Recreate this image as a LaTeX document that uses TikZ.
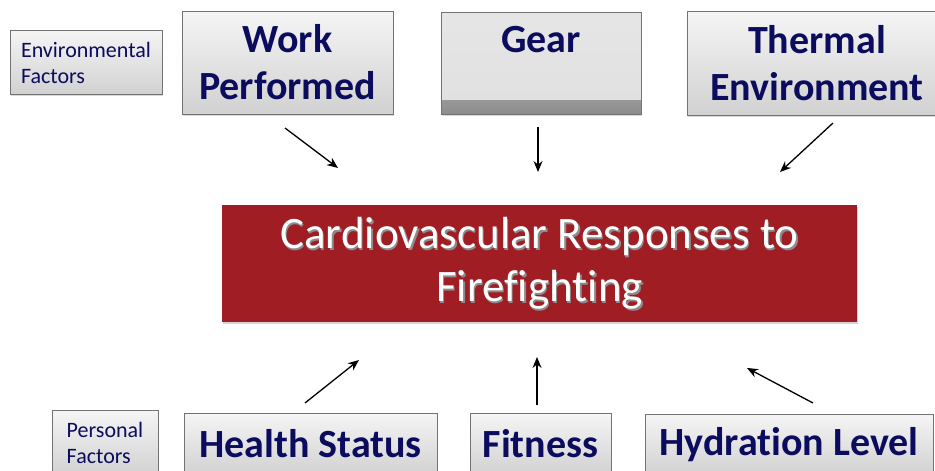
\documentclass[tikz,border=0pt]{standalone}
\usepackage{fontspec}
\setmainfont{Carlito}[Ligatures=NoCommon]
\usetikzlibrary{arrows.meta,shadows}
\definecolor{navy}{HTML}{0C0C5E}
\definecolor{cvred}{HTML}{A11D24}
\begin{document}
\begin{tikzpicture}[x=1pt,y=-1pt,
  graybox/.style={draw=black!55, line width=0.8pt, top color=black!4, bottom color=black!18,
    inner sep=0pt, text=navy, align=center,
    drop shadow={opacity=0.3, shadow xshift=1pt, shadow yshift=-1.5pt}},
  big/.style={font=\fontsize{40}{47}\selectfont\bfseries},
  small/.style={font=\fontsize{22}{26}\selectfont},
  arr/.style={-{Stealth[length=11pt,width=9pt]}, line width=1.3pt}]
\useasboundingbox (0,0) rectangle (935,471);
% top row
\node[graybox, small, align=left, minimum width=152pt, minimum height=64pt] (env) at (86,62.5) {Environmental\\Factors};
\node[graybox, big, minimum width=211pt, minimum height=103pt] (work) at (287.5,62.5) {Work\\Performed};
\node[graybox, big, minimum width=200pt, minimum height=102pt, top color=black!10, bottom color=black!12,
  path picture={\shade[top color=black!12, bottom color=black!45]
    ([yshift=14pt]path picture bounding box.south west) rectangle (path picture bounding box.south east);}]
  (gear) at (541,63) {Gear\\\phantom{Performed}};
\node[graybox, big, minimum width=260pt, minimum height=104pt] (therm) at (817,63) {Thermal\\Environment};
% centre
\node[draw=none, fill=cvred, minimum width=635pt, minimum height=117pt,
  drop shadow={opacity=0.35, shadow xshift=1pt, shadow yshift=-2pt}] (cv) at (539.5,263.5) {};
\node[text=black!45, align=center, font=\fontsize{45}{53}\selectfont] (cvs) at (541,265) {Cardiovascular Responses to\\Firefighting};
\node[text=white, align=center, font=\fontsize{45}{53}\selectfont] (cvt) at (539.5,263.5) {Cardiovascular Responses to\\Firefighting};
% bottom row
\node[graybox, small, align=left, minimum width=106pt, minimum height=66pt] (pers) at (105,443) {Personal\\Factors};
\node[graybox, big, minimum width=253pt, minimum height=62pt] (health) at (310.5,444) {Health Status};
\node[graybox, big, minimum width=141pt, minimum height=62pt] (fit) at (540.5,444) {Fitness};
\node[graybox, big, minimum width=288pt, minimum height=61pt] (hyd) at (789,444.5) {Hydration Level};
% arrow end points
\coordinate (w1) at (285,128); \coordinate (w2) at (338,168);
\coordinate (g1) at (538,127); \coordinate (g2) at (538,172);
\coordinate (t1) at (833,123); \coordinate (t2) at (780,172);
\coordinate (h1) at (305,403); \coordinate (h2) at (359,360);
\coordinate (f1) at (537,405); \coordinate (f2) at (537,357);
\coordinate (y1) at (813,403); \coordinate (y2) at (747,368);
\draw[arr] (w1) -- (w2);
\draw[arr] (g1) -- (g2);
\draw[arr] (t1) -- (t2);
\draw[arr] (h1) -- (h2);
\draw[arr] (f1) -- (f2);
\draw[arr] (y1) -- (y2);
\end{tikzpicture}
\end{document}
